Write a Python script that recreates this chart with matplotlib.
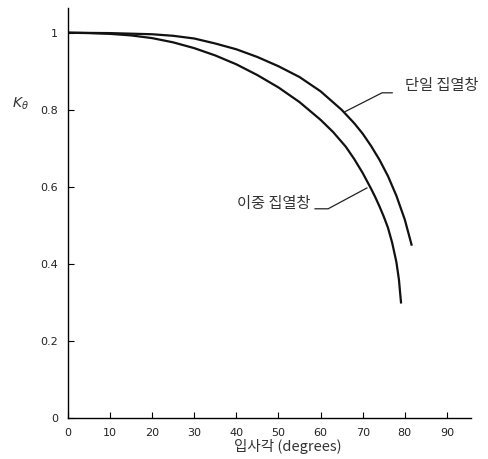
import matplotlib
matplotlib.use("Agg")
import matplotlib.pyplot as plt

plt.rcParams['font.family'] = ['Noto Sans CJK KR', 'DejaVu Sans']

# incidence angle (deg) vs K_theta
single_deg = [0, 10, 20, 25, 30, 35, 40, 45, 50, 55, 60, 65, 68, 70, 72, 74, 76, 78, 80, 81.6]
single_k = [1.0, 0.999, 0.996, 0.992, 0.985, 0.972, 0.957, 0.937, 0.913, 0.885,
            0.848, 0.80, 0.765, 0.738, 0.706, 0.67, 0.628, 0.577, 0.515, 0.45]

double_deg = [0, 5, 10, 15, 20, 25, 30, 35, 40, 45, 50, 55, 60, 63, 66, 68, 70, 72,
              73, 74, 75, 76, 77, 78, 78.6, 79.1]
double_k = [1.0, 0.999, 0.997, 0.993, 0.986, 0.975, 0.96, 0.941, 0.918, 0.89, 0.858,
            0.82, 0.774, 0.742, 0.704, 0.672, 0.636, 0.595, 0.573, 0.549, 0.523,
            0.494, 0.455, 0.405, 0.36, 0.30]

x_ticks = [0, 10, 20, 30, 40, 50, 60, 70, 80, 90]
y_ticks = [0, 0.2, 0.4, 0.6, 0.8, 1.0]
y_ticklabels = ['0', '0.2', '0.4', '0.6', '0.8', '1']

single_label = '단일 집열창'
double_label = '이중 집열창'

fig = plt.figure(figsize=(4.88, 4.59), dpi=100)
ax = fig.add_axes([0.139, 0.0893, 0.826, 0.894])

ax.plot(single_deg, single_k, color='#111111', lw=1.6)
ax.plot(double_deg, double_k, color='#111111', lw=1.6)

# leader lines + labels
ax.plot([65.8, 74.6, 77.0], [0.795, 0.844, 0.844], color='#222222', lw=0.9)
ax.text(80.0, 0.862, single_label, fontsize=11, color='#333333', va='center', ha='left')
ax.plot([71.0, 61.8, 58.7], [0.597, 0.543, 0.543], color='#222222', lw=0.9)
ax.text(57.5, 0.558, double_label, fontsize=11, color='#333333', va='center', ha='right')

ax.set_xlim(0, 95.7)
ax.set_ylim(0, 1.065)
ax.set_xticks(x_ticks)
ax.set_xticklabels([str(t) for t in x_ticks], fontsize=8, color='#222222', family='DejaVu Sans')
ax.set_yticks(y_ticks)
ax.set_yticklabels(y_ticklabels, fontsize=8, color='#222222', family='DejaVu Sans')
ax.tick_params(direction='in', length=4, width=0.8, pad=7)

for spine in ['top', 'right']:
    ax.spines[spine].set_visible(False)
for spine in ['bottom', 'left']:
    ax.spines[spine].set_linewidth(1.0)

ax.set_xlabel('입사각 (degrees)', fontsize=10.5, color='#333333', style='italic')
ax.xaxis.set_label_coords(0.546, -0.052)
fig.text(0.025, 0.765, r'$K_\theta$', fontsize=10, color='#333333')

fig.savefig('out.png', dpi=100)
